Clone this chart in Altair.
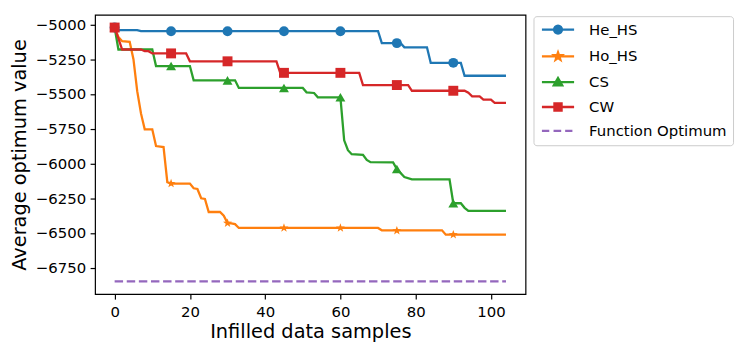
import math
import altair as alt
import pandas as pd

# ---------------- data ----------------
SERIES = ["He_HS", "Ho_HS", "CS", "CW", "Function Optimum"]
COLORS = ["#1f77b4", "#ff7f0e", "#2ca02c", "#d62728", "#9467bd"]

HE_HS_X = [0, 1, 6, 7, 70, 71, 76, 77, 83, 84, 92, 93, 104]
HE_HS_Y = [-5022, -5040, -5040, -5048, -5048, -5134, -5134, -5164, -5164, -5276, -5276, -5369, -5369]

HO_HS_X = [0, 1, 2, 4, 5, 6, 7, 8, 10, 11, 13, 14, 15, 20, 21, 22, 23, 24, 25, 28, 29, 30, 31, 32, 33,
           70, 71, 87, 88, 104]
HO_HS_Y = [-5022, -5090, -5120, -5125, -5250, -5480, -5640, -5755, -5755, -5875, -5882, -6135, -6145,
           -6145, -6179, -6184, -6251, -6256, -6350, -6350, -6377, -6430, -6432, -6437, -6465,
           -6465, -6482, -6482, -6513, -6513]

CS_X = [0, 1, 10, 11, 20, 21, 32, 33, 50, 51, 53, 54, 60, 61, 62, 63, 66, 67, 68, 74, 75, 77, 79,
        89, 90, 92, 93, 94, 104]
CS_Y = [-5022, -5180, -5180, -5299, -5299, -5402, -5402, -5457, -5457, -5488, -5493, -5524, -5524,
        -5834, -5905, -5934, -5938, -5975, -5991, -5993, -6040, -6098, -6115, -6115, -6287, -6287,
        -6320, -6342, -6342]

CW_X = [0, 2, 7, 8, 9, 10, 19, 20, 43, 44, 65, 66, 78, 79, 93, 94, 95, 97, 98, 100, 101, 104]
CW_Y = [-5022, -5180, -5180, -5192, -5192, -5208, -5208, -5265, -5265, -5348, -5348, -5436, -5436,
        -5477, -5477, -5491, -5517, -5517, -5541, -5541, -5564, -5564]

OPT_X = [0, 104]
OPT_Y = [-6850, -6850]

MARKER_X = [0, 15, 30, 45, 60, 75, 90]
HE_HS_M = [-5022, -5048, -5048, -5048, -5048, -5134, -5276]
HO_HS_M = [-5022, -6145, -6430, -6465, -6465, -6484, -6513]
CS_M = [-5022, -5299, -5402, -5457, -5524, -6040, -6287]
CW_M = [-5022, -5208, -5265, -5348, -5348, -5436, -5477]

X_TICKS = [0, 20, 40, 60, 80, 100]
Y_TICKS = [-5000, -5250, -5500, -5750, -6000, -6250, -6500, -6750]

# ---------------- tables ----------------
line_parts = [
    ("He_HS", HE_HS_X, HE_HS_Y),
    ("Ho_HS", HO_HS_X, HO_HS_Y),
    ("CS", CS_X, CS_Y),
    ("CW", CW_X, CW_Y),
]
lines_df = pd.DataFrame(
    [{"series": s, "x": x, "y": y} for s, xs, ys in line_parts for x, y in zip(xs, ys)]
)
opt_df = pd.DataFrame({"series": "Function Optimum", "x": OPT_X, "y": OPT_Y})
marker_parts = [("He_HS", HE_HS_M), ("Ho_HS", HO_HS_M), ("CS", CS_M), ("CW", CW_M)]
markers_df = pd.DataFrame(
    [{"series": s, "x": x, "y": y} for s, ys in marker_parts for x, y in zip(MARKER_X, ys)]
)


# ---------------- symbol shapes ----------------
def star_path(cx, r_out, r_in):
    pts = []
    for i in range(10):
        ang = -math.pi / 2 + i * math.pi / 5
        r = r_out if i % 2 == 0 else r_in
        pts.append((cx + r * math.cos(ang), r * math.sin(ang)))
    return "M" + "L".join(f"{x:.3f},{y:.3f}" for x, y in pts) + "Z"


STAR = star_path(0, 0.95, 0.38)

C = 2.24
LINE = "M-1,0H5.48"
LEG_SHAPES = {
    "He_HS": LINE + f"M{C+0.8},0A0.8,0.8,0,1,1,{C-0.8},0A0.8,0.8,0,1,1,{C+0.8},0Z",
    "Ho_HS": LINE + star_path(C, 0.8, 0.32),
    "CS": LINE + f"M{C},-0.85L{C+0.85},0.62L{C-0.85},0.62Z",
    "CW": LINE + f"M{C-0.72},-0.72H{C+0.72}V0.72H{C-0.72}Z",
    "Function Optimum": "M-1,0H0.48M1.34,0H2.88M3.68,0H5.14",
}
shape_expr = ""
for k in SERIES[:-1]:
    shape_expr += f"datum.value === '{k}' ? '{LEG_SHAPES[k]}' : "
shape_expr += f"'{LEG_SHAPES['Function Optimum']}'"

# ---------------- chart ----------------
W, H = 433.6, 281.3
FONT = "DejaVu Sans"

xscale = alt.Scale(domain=[-5.2, 109.2], nice=False, zero=False)
yscale = alt.Scale(domain=[-6941.4, -4930.6], nice=False, zero=False)
color_scale = alt.Scale(domain=SERIES, range=COLORS)

common_axis = dict(
    labelFontSize=15, labelFont=FONT, labelColor="black", tickSize=5, tickColor="black",
    tickWidth=1.2, domain=False, grid=False, titleFontSize=19.5, titleFont=FONT,
    titleFontWeight="normal", titleColor="black", titleBaseline="alphabetic",
    titleAlign="center", labelFlush=False,
)
xaxis = alt.Axis(values=X_TICKS, format="d", labelPadding=5.5, titleX=W / 2, titleY=44, **common_axis)
yaxis = alt.Axis(values=Y_TICKS, format="d", labelExpr="replace(datum.label, '-', '\u2212')",
                 labelPadding=4.5, titleX=-69.8, titleY=H / 2, titleAngle=-90, **common_axis)

legend = alt.Legend(
    title=None, orient="none", legendX=441.6, legendY=1.3,
    symbolSize=100, labelFontSize=15, labelFont=FONT, labelColor="black",
    labelOffset=35, rowPadding=8, padding=6, strokeColor="#cccccc", cornerRadius=3,
    fillColor="white", labelLimit=300, symbolStrokeWidth=2.3, symbolOpacity=1,
    symbolType=alt.ExprRef(expr=shape_expr),
    symbolFillColor=alt.ExprRef(expr="scale('color', datum.value)"),
)

lines = alt.Chart(lines_df).mark_line(strokeWidth=2.3).encode(
    x=alt.X("x:Q", scale=xscale, axis=xaxis, title="Infilled data samples"),
    y=alt.Y("y:Q", scale=yscale, axis=yaxis, title="Average optimum value"),
    color=alt.Color("series:N", scale=color_scale, legend=legend, sort=SERIES),
)

opt = alt.Chart(opt_df).mark_line(strokeWidth=2.3, strokeDash=[8.5, 3.7]).encode(
    x=alt.X("x:Q", scale=xscale),
    y=alt.Y("y:Q", scale=yscale),
    color=alt.Color("series:N", scale=color_scale, legend=None, sort=SERIES),
)

points = alt.Chart(markers_df).mark_point(filled=True, size=100, opacity=1).encode(
    x=alt.X("x:Q", scale=xscale),
    y=alt.Y("y:Q", scale=yscale),
    color=alt.Color("series:N", scale=color_scale, legend=None, sort=SERIES),
    shape=alt.Shape("series:N", sort=SERIES[:4],
                    scale=alt.Scale(domain=SERIES[:4], range=["circle", STAR, "triangle-up", "square"]),
                    legend=None),
)

chart = alt.layer(lines, opt, points).properties(
    width=W, height=H,
    autosize=alt.AutoSizeParams(type="none"),
    padding={"left": 87.7, "top": 5.7, "right": 215, "bottom": 50},
    background="white",
).configure(
    font=FONT,
    view=alt.ViewConfig(stroke="black", strokeWidth=1.2),
)

chart.save("out.html", embed_options={"renderer": "svg", "actions": False})
